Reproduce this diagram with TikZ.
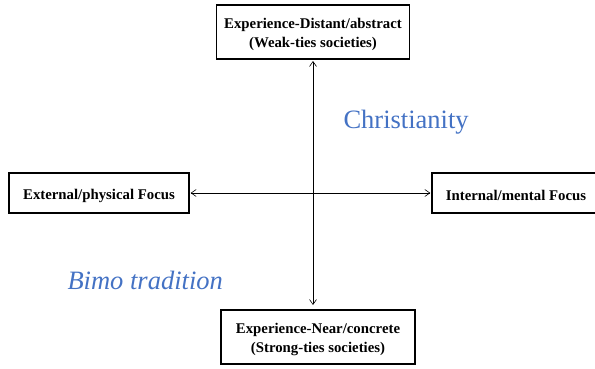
\documentclass[tikz,border=0pt]{standalone}
\usepackage{fontspec}
\setmainfont{Liberation Serif}
\usetikzlibrary{arrows.meta}
\definecolor{labelblue}{HTML}{4472C4}
% extra room above the first line of a box label
\newcommand\boxpad{\rule{0pt}{16pt}}
\begin{document}
\begin{tikzpicture}[x=1pt,y=1pt,
  box/.style={draw, line width=1.3pt, inner sep=0pt, font=\bfseries\fontsize{14.8}{19}\selectfont, align=center},
  link/.style={{Straight Barb[length=5pt,width=7pt]}-{Straight Barb[length=5pt,width=7pt]}, line width=0.6pt},
  tag/.style={text=labelblue, font=\fontsize{26.5}{30}\selectfont}]
\useasboundingbox (0,0) rectangle (595,368);
\node[box, minimum width=193pt, minimum height=54pt] (top) at (313,336) {\boxpad Experience-Distant/abstract\\(Weak-ties societies)};
\node[box, minimum width=194pt, minimum height=54pt] (bot) at (318,31) {\boxpad Experience-Near/concrete\\(Strong-ties societies)};
\node[box, minimum width=180pt, minimum height=40pt] (left) at (99,175) {\boxpad External/physical Focus};
\node[box, minimum width=168pt, minimum height=40pt] (right) at (516,175) {\boxpad Internal/mental Focus};
\coordinate (vtop) at (313,307);
\coordinate (vbot) at (313,63);
\draw[link] (vtop) -- (vbot);
\draw[link] ([xshift=1pt]left.east) -- ([xshift=-1pt]right.west);
\node[tag, anchor=west] (chr) at (340,246) {Christianity};
\node[tag, anchor=west, font=\itshape\fontsize{26.5}{30}\selectfont] (bimo) at (64,88) {Bimo tradition};
\end{tikzpicture}
\end{document}
